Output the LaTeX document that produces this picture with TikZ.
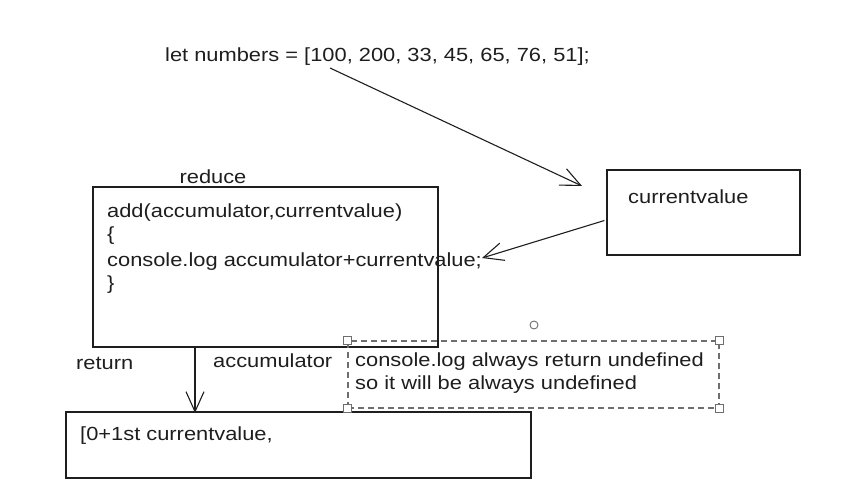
\documentclass[tikz,border=0pt]{standalone}
\usepackage{fontspec}
\setmainfont[FakeStretch=1.15]{Liberation Sans}
\usetikzlibrary{arrows.meta,positioning}
\definecolor{ink}{HTML}{1E1E1E}
\definecolor{handle}{HTML}{6E6E6E}
\begin{document}
\begin{tikzpicture}[x=1pt, y=-1pt,
        box/.style = {draw = ink, line width = 1.2pt, inner sep = 0pt},
        txt/.style = {anchor = west, inner sep = 0pt, text = ink, font = \fontsize{19}{23}\selectfont},
        flow/.style = {draw = ink, line width = 1.1pt, -{Straight Barb[length=20pt, width=18pt]}},
        grip/.style = {draw = handle, fill = white, line width = 0.9pt}
    ]
    \useasboundingbox (0,0) rectangle (850,495);

    % the array
    \node[txt] (numbers) at (165,57) {let numbers = [100, 200, 33, 45, 65, 76, 51];};

    % boxes
    \node[box, minimum width = 193, minimum height = 85] (cur) at (703.5,212.5) {};
    \node[txt] (curtext) at (628,197) {currentvalue};

    \node[box, minimum width = 345, minimum height = 160] (reduce) at (265.5,267) {};
    \node[txt, anchor = south] (reducelbl) at (213,184) {reduce};
    \node[txt] (line1) at (107,213) {add(accumulator,currentvalue)};
    \node[txt] (line2) at (107,236) {\{};
    \node[txt] (line3) at (107,262) {console.log accumulator+currentvalue;};
    \node[txt] (line4) at (107,285) {\}};

    \node[box, minimum width = 465, minimum height = 66] (result) at (298.5,445) {};
    \node[txt] (resulttext) at (80,436) {[0+1st currentvalue,};

    \node[txt] (ret) at (76,363) {return};
    \node[txt] (acc) at (213,361) {accumulator};

    % note with selection frame
    \node[draw = handle, dash pattern = on 6pt off 4pt, line width = 1.2pt, minimum width = 371, minimum height = 67, inner sep = 0pt] (note) at (533.5,374.5) {};
    \node[txt] (note1) at (355,362) {console.log always return undefined};
    \node[txt] (note2) at (355,385) {so it will be always undefined};
    \foreach \c in {north west, north east, south west, south east}
        \draw[grip] ([shift={(-4,-4)}]note.\c) rectangle ([shift={(4,4)}]note.\c);
    \draw[grip] (534,325) circle (4);

    % connectors
    \coordinate (start) at (330,68);
    \coordinate (hit) at (582,186);
    \coordinate (back) at (482,258);
    \coordinate (down) at (195,347);
    \coordinate (land) at (195,413);
    \draw[flow] (start) -- (hit);
    \draw[flow] ([shift={(-2,8)}]cur.west) -- (back);
    \draw[flow] (down) -- (land);
\end{tikzpicture}
\end{document}
